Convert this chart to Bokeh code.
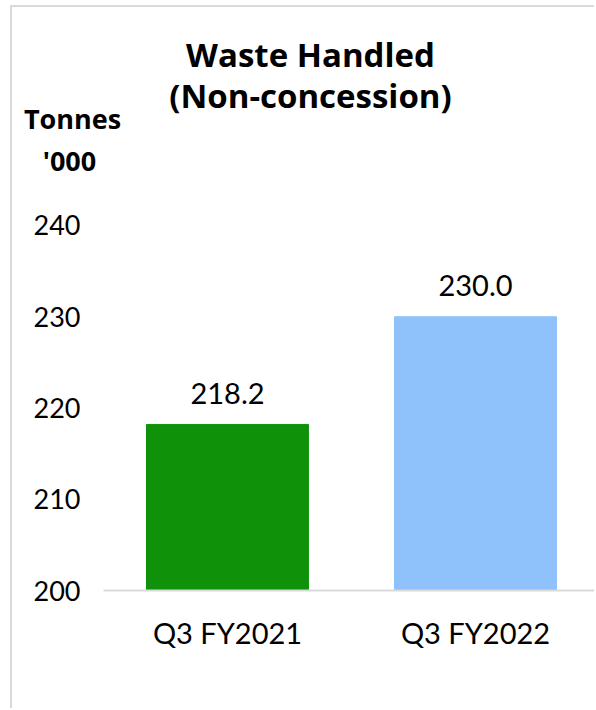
from bokeh.plotting import figure
from bokeh.models import Range1d, FixedTicker, Label, ColumnDataSource
from bokeh.core.properties import value
from bokeh.embed import file_html
from bokeh.resources import INLINE

# Waste handled (non-concession), tonnes '000
categories = ["Q3 FY2021", "Q3 FY2022"]
values = [218.2, 230.0]
colors = ["#0F9109", "#8FC2FA"]
y_ticks = [200, 210, 220, 230, 240]

FONT = "Lato"
TITLE_FONT = "Open Sans"

xs = [i + 0.5 for i in range(len(categories))]
src = ColumnDataSource(dict(
    x=xs,
    top=values,
    color=colors,
    label=[f"{v:.1f}" for v in values],
))

# plot area spans the whole canvas; axes are pinned inside it
x_end = 1.9879
p = figure(
    width=584, height=703,
    x_range=Range1d(-0.3669, x_end),
    y_range=Range1d(186.85, 263.89),
    output_backend="svg", toolbar_location=None,
    min_border=0,
)
p.margin = (5, 0, 0, 10)
p.styles = {"border-left": "2px solid #d9d9d9", "border-top": "2px solid #d9d9d9"}
p.outline_line_color = None
p.xgrid.visible = False
p.ygrid.visible = False

p.vbar(x="x", top="top", bottom=200, width=0.653, color="color", source=src)
p.text(x="x", y="top", text="label", source=src,
       text_align="center", text_baseline="middle", y_offset=-31,
       text_font=value(FONT), text_font_size="29px", text_color="#000000")

# y axis: labels only
p.yaxis.fixed_location = 0
p.yaxis.ticker = FixedTicker(ticks=y_ticks)
p.yaxis.axis_line_color = None
p.yaxis.major_tick_line_color = None
p.yaxis.major_tick_out = 0
p.yaxis.major_tick_in = 0
p.yaxis.minor_tick_line_color = None
p.yaxis.major_label_standoff = 23
p.yaxis.major_label_text_font = FONT
p.yaxis.major_label_text_font_size = "27px"
p.yaxis.major_label_text_color = "#000000"

# x axis: baseline with category labels
p.xaxis.fixed_location = 200
p.xaxis.bounds = (0, x_end)
p.xaxis.ticker = FixedTicker(ticks=xs)
p.xaxis.major_label_overrides = {x: c for x, c in zip(xs, categories)}
p.xaxis.axis_line_color = "#d9d9d9"
p.xaxis.axis_line_width = 2
p.xaxis.major_tick_line_color = None
p.xaxis.minor_tick_line_color = None
p.xaxis.major_label_standoff = 18
p.xaxis.major_label_text_font = FONT
p.xaxis.major_label_text_font_size = "29px"
p.xaxis.major_label_text_color = "#000000"

# chart title and unit caption
for txt, x, y, size in [
    ("Waste Handled", 298, 656, "33px"),
    ("(Non-concession)", 298, 615, "33px"),
    ("Tonnes", 60, 592, "27px"),
    ("'000", 57, 550, "27px"),
]:
    p.add_layout(Label(x=x, y=y, x_units="screen", y_units="screen", text=txt,
                       text_align="center", text_baseline="middle",
                       text_font=TITLE_FONT, text_font_style="bold",
                       text_font_size=size, text_color="#000000"))

open("out.html", "w").write(file_html(p, INLINE))
